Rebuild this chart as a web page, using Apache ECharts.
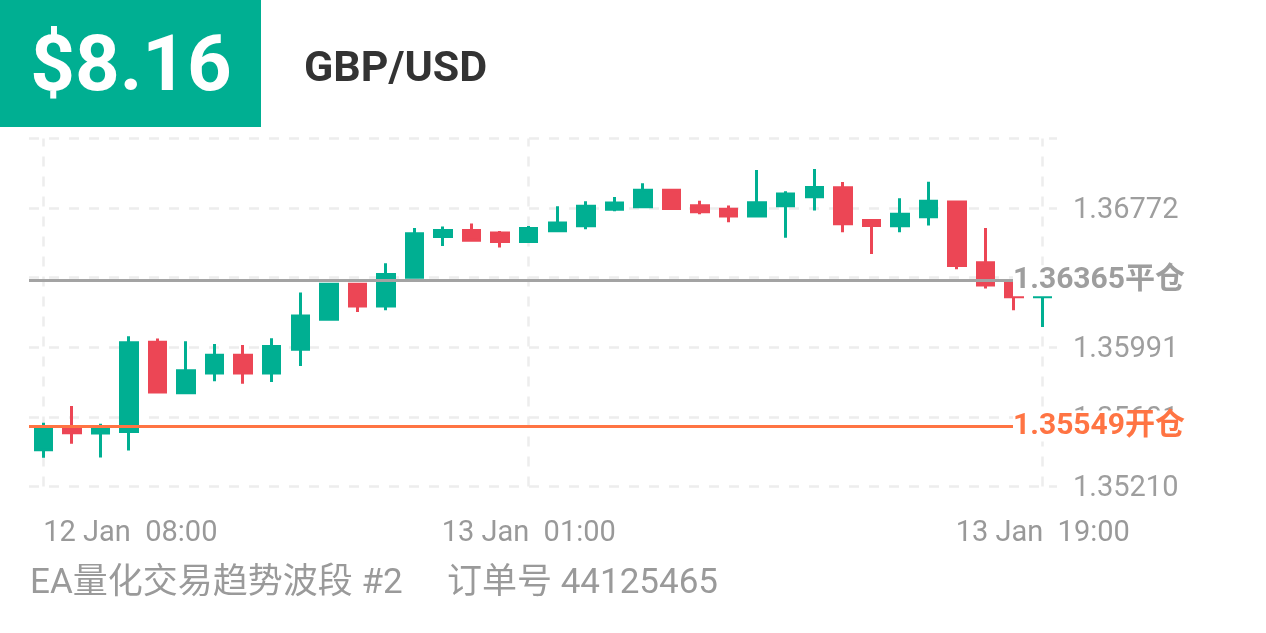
<!DOCTYPE html>
<html>
<head>
<meta charset="utf-8">
<script src="https://cdn.jsdelivr.net/npm/echarts@6/dist/echarts.min.js"></script>
<style>
html,body{margin:0;padding:0;background:#fff;}
#chart{width:1266px;height:633px;}
</style>
</head>
<body>
<div id="chart"></div>
<script>
// ---- data ----
const categories = [
  '12 Jan  08:00','12 Jan  09:00','12 Jan  10:00','12 Jan  11:00','12 Jan  12:00','12 Jan  13:00',
  '12 Jan  14:00','12 Jan  15:00','12 Jan  16:00','12 Jan  17:00','12 Jan  18:00','12 Jan  19:00',
  '12 Jan  20:00','12 Jan  21:00','12 Jan  22:00','12 Jan  23:00','13 Jan  00:00','13 Jan  01:00',
  '13 Jan  02:00','13 Jan  03:00','13 Jan  04:00','13 Jan  05:00','13 Jan  06:00','13 Jan  07:00',
  '13 Jan  08:00','13 Jan  09:00','13 Jan  10:00','13 Jan  11:00','13 Jan  12:00','13 Jan  13:00',
  '13 Jan  14:00','13 Jan  15:00','13 Jan  16:00','13 Jan  17:00','13 Jan  18:00','13 Jan  19:00'
];
const openVals  = [1.35416,1.35540,1.35510,1.35519,1.36019,1.35736,1.35847,1.35946,1.35847,1.35980,1.36148,1.36345,
                   1.36223,1.36384,1.36613,1.36647,1.36632,1.36585,1.36645,1.36673,1.36766,1.36779,1.36872,1.36785,
                   1.36766,1.36727,1.36785,1.36836,1.36886,1.36703,1.36673,1.36723,1.36806,1.36465,1.36349,1.36274];
const closeVals = [1.35540,1.35512,1.35532,1.36017,1.35740,1.35860,1.35946,1.35847,1.35995,1.36167,1.36345,1.36223,
                   1.36400,1.36628,1.36647,1.36591,1.36585,1.36658,1.36689,1.36783,1.36800,1.36872,1.36770,1.36751,
                   1.36727,1.36802,1.36851,1.36888,1.36684,1.36675,1.36738,1.36810,1.36450,1.36341,1.36274,1.36276];
const lowVals   = [1.35371,1.35450,1.35373,1.35412,1.35740,1.35736,1.35800,1.35787,1.35796,1.35886,1.36143,1.36189,
                   1.36199,1.36380,1.36559,1.36591,1.36551,1.36577,1.36645,1.36654,1.36755,1.36779,1.36770,1.36737,
                   1.36693,1.36723,1.36605,1.36759,1.36637,1.36515,1.36636,1.36675,1.36429,1.36321,1.36199,1.36105];
const highVals  = [1.35568,1.35661,1.35562,1.36053,1.36040,1.36025,1.36010,1.36004,1.36042,1.36298,1.36348,1.36348,
                   1.36463,1.36660,1.36669,1.36686,1.36643,1.36671,1.36783,1.36811,1.36834,1.36911,1.36876,1.36813,
                   1.36787,1.36986,1.36866,1.36991,1.36918,1.36709,1.36827,1.36920,1.36809,1.36661,1.36350,1.36278];
const yMin = 1.35210;
const yStep = 0.003905;
const yMax = 1.371625;
const xLabelIndices = [0, 17, 35];
const closePrice = 1.36365;
const closeLabel = '1.36365平仓';
const openPrice = 1.35549;
const openLabel = '1.35549开仓';
const profitText = '$8.16';
const symbolText = 'GBP/USD';
const strategyText = 'EA量化交易趋势波段 #2';
const orderText = '订单号 44125465';

const UP = '#00AF92', DOWN = '#EC4655', ORANGE = '#FF7443', GREY = '#A3A3A3';
const FONT = 'Roboto, "Noto Sans CJK SC", sans-serif';

const kData = openVals.map((o, i) => [o, closeVals[i], lowVals[i], highVals[i]]);

function priceLine(value, text, lineColor, textColor) {
  return {
    yAxis: value,
    lineStyle: {color: lineColor, width: 3, type: 'solid'},
    label: {
      show: true, position: 'end', distance: -44,
      formatter: text,
      color: textColor, fontWeight: 'bold', fontSize: 30, fontFamily: FONT,
      backgroundColor: '#fff', lineHeight: 27, padding: [4, 2, 0, 0]
    }
  };
}

const chart = echarts.init(document.getElementById('chart'), null, {renderer: 'canvas'});
chart.setOption({
  animation: false,
  backgroundColor: '#fff',
  grid: {left: 29, right: 209, top: 138.5, bottom: 146.5},
  xAxis: {
    type: 'category',
    data: categories,
    boundaryGap: true,
    axisLine: {show: false},
    axisTick: {show: false},
    splitLine: {show: false},
    axisLabel: {
      interval: (idx) => xLabelIndices.indexOf(idx) >= 0,
      color: '#999999',
      fontFamily: FONT,
      fontSize: 29,
      margin: 33,
      alignMinLabel: 'left'
    }
  },
  yAxis: {
    type: 'value',
    position: 'right',
    min: yMin,
    max: yMax,
    interval: yStep,
    axisLine: {show: false},
    axisTick: {show: false},
    axisLabel: {
      color: '#9E9E9E',
      fontFamily: FONT,
      fontSize: 29,
      margin: 16,
      verticalAlign: 'top',
      lineHeight: 5,
      showMaxLabel: false,
      formatter: (v) => (v + 1e-9).toFixed(5)
    },
    splitLine: {show: true, lineStyle: {color: '#EDEDED', width: 2.5, type: [10, 10]}}
  },
  series: [
    {
      type: 'line',
      data: [],
      silent: true,
      z: 1,
      markLine: {
        silent: true,
        z: 1,
        symbol: 'none',
        label: {show: false},
        lineStyle: {color: '#EDEDED', width: 2.5, type: [10, 10]},
        data: xLabelIndices.map(i => ({xAxis: i}))
      }
    },
    {
      type: 'candlestick',
      z: 3,
      data: kData,
      barWidth: 17,
      itemStyle: {
        color: UP, color0: DOWN,
        borderColor: UP, borderColor0: DOWN,
        borderWidth: 3
      }
    },
    {
      type: 'line',
      data: [],
      silent: true,
      z: 5,
      markLine: {
        silent: true,
        z: 5,
        precision: 5,
        symbol: 'none',
        data: [
          priceLine(closePrice, closeLabel, GREY, '#9E9E9E'),
          priceLine(openPrice, openLabel, ORANGE, ORANGE)
        ]
      }
    }
  ],
  graphic: [
    {type: 'rect', shape: {x: 0, y: 0, width: 261, height: 127}, style: {fill: UP}, z: 10},
    {type: 'text', x: 131, y: 70, z: 11,
     style: {text: profitText, fill: '#fff', font: 'bold 78px ' + FONT,
             align: 'center', verticalAlign: 'middle', textAlign: 'center', textVerticalAlign: 'middle'}},
    {type: 'text', x: 304, y: 70, z: 11,
     style: {text: symbolText, fill: '#333333', font: 'bold 43px ' + FONT,
             align: 'left', verticalAlign: 'middle', textAlign: 'left', textVerticalAlign: 'middle'}},
    {type: 'text', x: 30, y: 584, z: 11,
     style: {text: strategyText, fill: '#9A9A9A', font: '35px ' + FONT,
             align: 'left', verticalAlign: 'middle', textAlign: 'left', textVerticalAlign: 'middle'}},
    {type: 'text', x: 447, y: 584, z: 11,
     style: {text: orderText, fill: '#9A9A9A', font: '35px ' + FONT,
             align: 'left', verticalAlign: 'middle', textAlign: 'left', textVerticalAlign: 'middle'}}
  ]
});
</script>
</body>
</html>
